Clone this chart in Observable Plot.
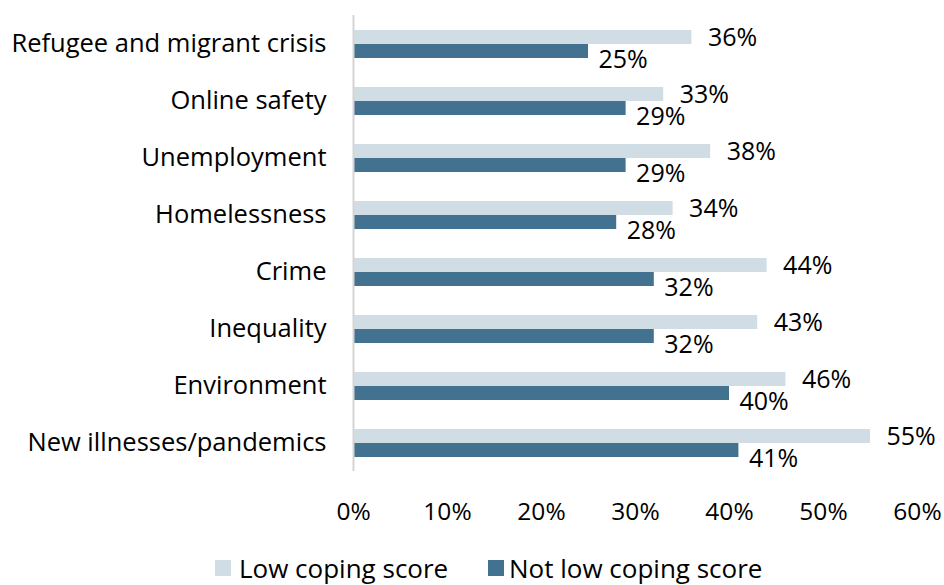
<!DOCTYPE html>
<html>
<head>
<meta charset="utf-8">
<script src="https://cdn.jsdelivr.net/npm/d3@7"></script>
<script src="https://cdn.jsdelivr.net/npm/@observablehq/plot@0.6"></script>
<style>
  body { margin: 0; background: #fff; font-family: "Open Sans", sans-serif; }
  #chart svg { display: block; }
  #chart g[aria-label="fy-axis tick label"] text { font-size: 25.5px; }
  .legend { position: relative; height: 40px; font-size: 26px; line-height: 1; color: #000; }
  .legend .item { position: absolute; top: 8px; height: 30px; display: flex; align-items: center; white-space: nowrap; }
  .legend .sw { width: 16px; height: 16px; display: inline-block; margin-right: 8px; }
</style>
</head>
<body>
<div id="chart"></div>
<div class="legend">
  <div class="item" style="left:215px"><span class="sw" style="background:#d1dde5"></span>Low coping score</div>
  <div class="item" style="left:488px"><span class="sw" style="background:#42728f; margin-right:5px"></span>Not low coping score</div>
</div>
<script>
const categories = ["Refugee and migrant crisis","Online safety","Unemployment","Homelessness","Crime","Inequality","Environment","New illnesses/pandemics"];
const series = ["Low coping score", "Not low coping score"];
const lowCoping = [36,33,38,34,44,43,46,55];
const notLowCoping = [25,29,29,28,32,32,40,41];
const xTicks = [0,10,20,30,40,50,60];
const colors = ["#d1dde5", "#42728f"];

const data = [];
categories.forEach((c, i) => {
  data.push({category: c, series: series[0], value: lowCoping[i]});
  data.push({category: c, series: series[1], value: notLowCoping[i]});
});

const chart = Plot.plot({
  width: 944,
  height: 545,
  marginLeft: 353,
  marginRight: 27,
  marginTop: 13,
  marginBottom: 72,
  style: {fontFamily: "'Open Sans', sans-serif", fontSize: "24.5px", color: "#000", background: "#fff"},
  x: {domain: [0, 60], ticks: xTicks, tickFormat: d => d + "%", tickSize: 0, tickPadding: 31, label: null},
  y: {domain: series, axis: null, paddingInner: 0, paddingOuter: 0.91},
  fy: {domain: categories, padding: 0, label: null, tickSize: 0, tickPadding: 27, axis: "left"},
  color: {domain: series, range: colors},
  marks: [
    Plot.barX(data, {x: "value", y: "series", fy: "category", fill: "series"}),
    Plot.ruleX([0], {stroke: "#d4d4d4", strokeWidth: 2}),
    Plot.text(data.filter(d => d.series === series[0]), {x: "value", y: "series", fy: "category", text: d => d.value + "%", textAnchor: "start", dx: 16, fill: "#000", fontSize: 25}),
    Plot.text(data.filter(d => d.series === series[1]), {x: "value", y: "series", fy: "category", text: d => d.value + "%", textAnchor: "start", dx: 10, dy: 8, fill: "#000", fontSize: 25})
  ]
});
document.getElementById("chart").appendChild(chart);
</script>
</body>
</html>
